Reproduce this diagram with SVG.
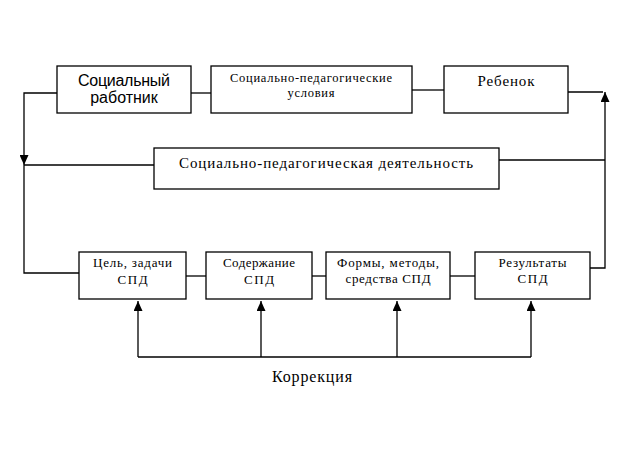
<svg xmlns="http://www.w3.org/2000/svg" width="636" height="456" viewBox="0 0 636 456">
<style>
.box{fill:#fff;stroke:#000;stroke-width:1.3}
.ln{fill:none;stroke:#000;stroke-width:1.3}
.s{font-family:"Liberation Sans",Arial,sans-serif;fill:#000;text-anchor:middle}
.t{font-family:"Liberation Serif","DejaVu Serif","Times New Roman",serif;fill:#000;text-anchor:middle}
</style>
<defs>
<marker id="ah" markerUnits="userSpaceOnUse" markerWidth="10" markerHeight="9" refX="10" refY="4.5" orient="auto">
<path d="M0,0 L10,4.5 L0,9 z" fill="#000"/>
</marker>
</defs>
<rect width="636" height="456" fill="#fff"/>
<g id="connectors">
<path class="ln" d="M57,93 H24 V165" marker-end="url(#ah)"/>
<path class="ln" d="M24,165 V273 H79"/>
<path class="ln" d="M154,165 H24"/>
<path class="ln" d="M590,268 H605 V92" marker-end="url(#ah)"/>
<path class="ln" d="M568,92 H603"/>
<path class="ln" d="M499,160 H605"/>
<path class="ln" d="M191,93 H211"/>
<path class="ln" d="M412,90 H444"/>
<path class="ln" d="M186,276 H206"/>
<path class="ln" d="M312,276 H326"/>
<path class="ln" d="M450,276 H475"/>
<path class="ln" d="M138,357 H531"/>
<path class="ln" d="M138,357 V301" marker-end="url(#ah)"/>
<path class="ln" d="M261,357 V301" marker-end="url(#ah)"/>
<path class="ln" d="M397,357 V301" marker-end="url(#ah)"/>
<path class="ln" d="M531,357 V301" marker-end="url(#ah)"/>
</g>
<g id="social-worker">
<rect class="box" x="57" y="66" width="134" height="47"/>
<text class="s" x="124" y="86" font-size="16" textLength="92" lengthAdjust="spacing">Социальный</text>
<text class="s" x="124" y="103" font-size="16">работник</text>
</g>
<g id="conditions">
<rect class="box" x="211" y="66" width="201" height="47"/>
<text class="t" x="311" y="82" font-size="12.5" textLength="162" lengthAdjust="spacing">Социально-педагогические</text>
<text class="t" x="311" y="97" font-size="12.5" textLength="47" lengthAdjust="spacing">условия</text>
</g>
<g id="child">
<rect class="box" x="444" y="66" width="124" height="47"/>
<text class="t" x="506" y="86" font-size="15" textLength="57" lengthAdjust="spacing">Ребенок</text>
</g>
<g id="activity">
<rect class="box" x="154" y="148" width="345" height="41"/>
<text class="t" x="326" y="168" font-size="15" textLength="294" lengthAdjust="spacing">Социально-педагогическая деятельность</text>
</g>
<g id="goals">
<rect class="box" x="79" y="252" width="107" height="47"/>
<text class="t" x="132.5" y="267" font-size="13" textLength="79" lengthAdjust="spacing">Цель, задачи</text>
<text class="t" x="132.5" y="284" font-size="13" textLength="30" lengthAdjust="spacing">СПД</text>
</g>
<g id="content">
<rect class="box" x="206" y="252" width="106" height="47"/>
<text class="t" x="259" y="267" font-size="13" textLength="72" lengthAdjust="spacing">Содержание</text>
<text class="t" x="259" y="284" font-size="13" textLength="30" lengthAdjust="spacing">СПД</text>
</g>
<g id="forms">
<rect class="box" x="326" y="252" width="124" height="47"/>
<text class="t" x="388" y="267" font-size="13" textLength="102" lengthAdjust="spacing">Формы,  методы,</text>
<text class="t" x="388" y="283" font-size="13" textLength="85" lengthAdjust="spacing">средства СПД</text>
</g>
<g id="results">
<rect class="box" x="475" y="252" width="115" height="47"/>
<text class="t" x="532.5" y="267" font-size="13" textLength="68" lengthAdjust="spacing">Результаты</text>
<text class="t" x="532.5" y="283" font-size="13" textLength="30" lengthAdjust="spacing">СПД</text>
</g>
<g id="correction">
<text class="t" x="312" y="382" font-size="16" textLength="80" lengthAdjust="spacing">Коррекция</text>
</g>
</svg>
